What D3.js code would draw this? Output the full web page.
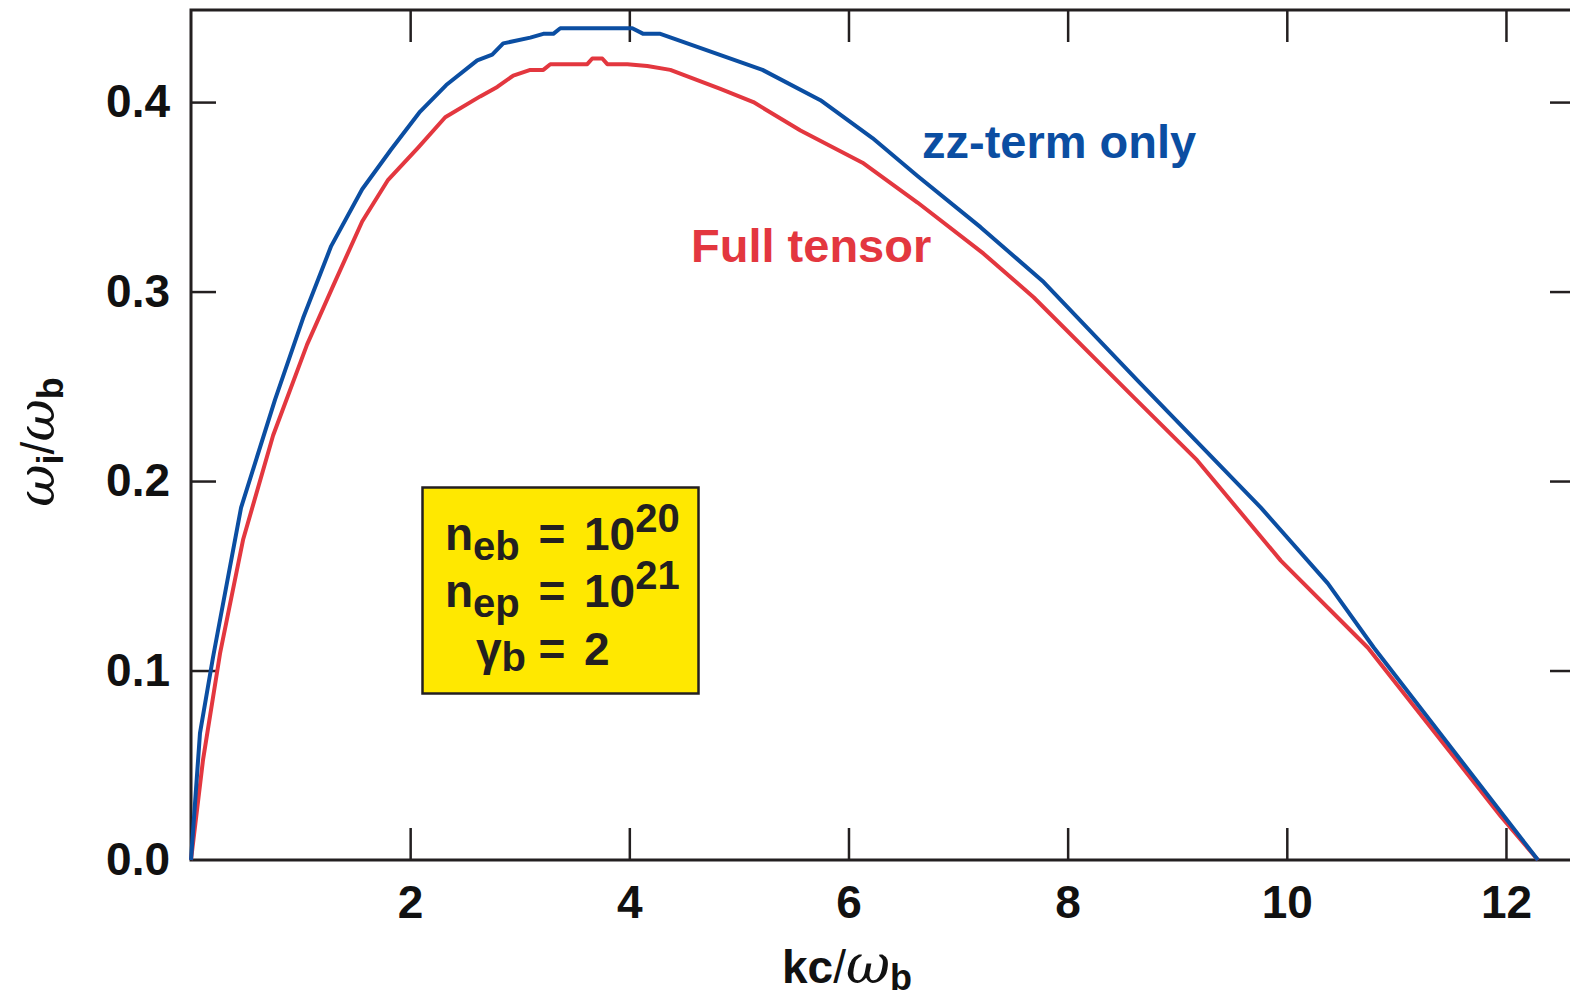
<!DOCTYPE html>
<meta charset="utf-8">
<style>
body { margin: 0; background: #fff; }
svg text { font-family: "Liberation Sans", Arial, Helvetica, sans-serif; font-weight: bold; fill: #111; }
.frame { fill: none; stroke: #231f20; stroke-width: 3; }
.tick line { stroke: #231f20; stroke-width: 2.5; }
.domain { display: none; }
.curve { fill: none; stroke-width: 4; stroke-linejoin: round; }
.greek { font-family: "DejaVu Serif", "Liberation Serif", serif; font-style: italic; font-weight: normal; }
</style>
<body>
<div id="chart"></div>
<script src="https://d3js.org/d3.v7.min.js"></script>
<script>
// zz-term only (blue)
var kZz = [0, 0.082, 0.201, 0.457, 0.767, 1.023, 1.279, 1.562, 1.826, 2.091, 2.329, 2.612, 2.749, 2.849,
           3.096, 3.215, 3.306, 3.370, 4.027, 4.128, 4.283, 5.215, 5.744, 6.219, 6.630, 7.205, 7.781,
           8.639, 9.763, 10.374, 10.795, 12.292];
var wZz = [0, 0.067, 0.107, 0.186, 0.243, 0.286, 0.324, 0.354, 0.375, 0.395, 0.409, 0.422, 0.425, 0.431,
           0.434, 0.436, 0.436, 0.439, 0.439, 0.436, 0.436, 0.417, 0.401, 0.381, 0.361, 0.334, 0.305,
           0.253, 0.186, 0.146, 0.112, 0];

// full tensor (red)
var kFull = [0, 0.110, 0.265, 0.475, 0.749, 1.059, 1.297, 1.562, 1.799, 2.073, 2.320, 2.639, 2.795, 2.941,
             3.096, 3.215, 3.279, 3.616, 3.662, 3.753, 3.799, 3.982, 4.164, 4.374, 4.831, 5.132, 5.562,
             6.128, 6.630, 7.233, 7.689, 8.606, 9.181, 9.945, 10.740, 11.954, 12.292];
var wFull = [0, 0.053, 0.109, 0.169, 0.224, 0.272, 0.303, 0.337, 0.359, 0.376, 0.392, 0.403, 0.408, 0.414,
             0.417, 0.417, 0.420, 0.420, 0.423, 0.423, 0.420, 0.420, 0.419, 0.417, 0.407, 0.400, 0.385,
             0.368, 0.347, 0.320, 0.297, 0.244, 0.211, 0.158, 0.112, 0.023, 0];

var xTicks = [2, 4, 6, 8, 10, 12];
var yTicks = [0, 0.1, 0.2, 0.3, 0.4];
var labelZz = "zz-term only";
var labelFull = "Full tensor";
// parameter box: name, subscript, value, exponent
var boxNames = ["n", "n", "\u03b3"];
var boxSubs = ["eb", "ep", "b"];
var boxValues = ["10", "10", "2"];
var boxExps = ["20", "21", ""];

var W = 1570, H = 997;
var blue = "#0b4ea2", red = "#e3373f";

var x = d3.scaleLinear().domain([0, 12.63]).range([191, 1575]);
var y = d3.scaleLinear().domain([0, 0.4486]).range([860, 10]);

var svg = d3.select("#chart").append("svg")
    .attr("width", W)
    .attr("height", H);

// axes with inward ticks
svg.append("g")
    .attr("transform", "translate(0,860)")
    .call(d3.axisBottom(x).tickValues(xTicks).tickSize(-32).tickPadding(25).tickFormat(d3.format("d")))
    .call(function(g) { g.selectAll("text").attr("font-size", 46).attr("font-family", null).attr("fill", "#111"); });
svg.append("g")
    .attr("transform", "translate(0,10)")
    .call(d3.axisTop(x).tickValues(xTicks).tickSize(-32).tickFormat(""));
svg.append("g")
    .attr("transform", "translate(191,0)")
    .call(d3.axisLeft(y).tickValues(yTicks).tickSize(-25).tickPadding(21).tickFormat(d3.format(".1f")))
    .call(function(g) {
        g.selectAll("text").attr("font-size", 46).attr("font-family", null).attr("fill", "#111");
        g.selectAll(".tick").filter(function(d) { return d === 0; }).select("line").remove();
    });
svg.append("g")
    .attr("transform", "translate(1575,0)")
    .call(d3.axisRight(y).tickValues(yTicks.slice(1)).tickSize(-25).tickFormat(""));

// frame
svg.append("rect")
    .attr("class", "frame")
    .attr("x", x(0)).attr("y", y.range()[1])
    .attr("width", x.range()[1] - x(0))
    .attr("height", y(0) - y.range()[1]);

var line = d3.line()
    .x(function(d) { return x(d[0]); })
    .y(function(d) { return y(d[1]); });

svg.append("path")
    .datum(d3.zip(kFull, wFull))
    .attr("class", "curve")
    .attr("stroke", red)
    .attr("d", line);

svg.append("path")
    .datum(d3.zip(kZz, wZz))
    .attr("class", "curve")
    .attr("stroke", blue)
    .attr("d", line);

// curve labels
svg.append("text").attr("x", 922).attr("y", 158).attr("font-size", 47).style("fill", blue).text(labelZz);
svg.append("text").attr("x", 691).attr("y", 262).attr("font-size", 47).style("fill", red).text(labelFull);

// parameter box
svg.append("rect")
    .attr("x", 422.5).attr("y", 487.5).attr("width", 276).attr("height", 206)
    .attr("fill", "#ffe800").attr("stroke", "#231f20").attr("stroke-width", 2.5);

var baselines = [550, 607, 665];
var nameX = [445, 445, 476];
boxNames.forEach(function(nm, i) {
    var t = svg.append("text").attr("x", nameX[i]).attr("y", baselines[i]).attr("font-size", 46).style("fill", "#231f20");
    t.append("tspan").text(nm);
    t.append("tspan").attr("font-size", 40).attr("dy", i === 2 ? 6 : 10).text(boxSubs[i]);
    svg.append("text").attr("x", 552).attr("y", baselines[i]).attr("text-anchor", "middle")
        .attr("font-size", 46).style("fill", "#231f20").text("=");
    var v = svg.append("text").attr("x", 584).attr("y", baselines[i]).attr("font-size", 46).style("fill", "#231f20");
    v.append("tspan").text(boxValues[i]);
    if (boxExps[i]) v.append("tspan").attr("font-size", 40).attr("dy", -18).text(boxExps[i]);
});

// axis titles
var xl = svg.append("text").attr("x", 782).attr("y", 983).attr("font-size", 46);
xl.append("tspan").text("kc");
xl.append("tspan").attr("font-weight", "normal").text("/");
xl.append("tspan").attr("class", "greek").attr("font-size", 54).text("\u03c9");
xl.append("tspan").attr("font-size", 36).attr("dy", 7).text("b");

var yl = svg.append("text").attr("transform", "translate(54,442) rotate(-90)")
    .attr("text-anchor", "middle").attr("font-size", 46);
yl.append("tspan").attr("class", "greek").attr("font-size", 52).text("\u03c9");
yl.append("tspan").attr("font-size", 36).attr("dy", 9).text("i");
yl.append("tspan").attr("font-weight", "normal").attr("dy", -9).text("/");
yl.append("tspan").attr("class", "greek").attr("font-size", 52).text("\u03c9");
yl.append("tspan").attr("font-size", 36).attr("dy", 9).text("b");
</script>
</body>
